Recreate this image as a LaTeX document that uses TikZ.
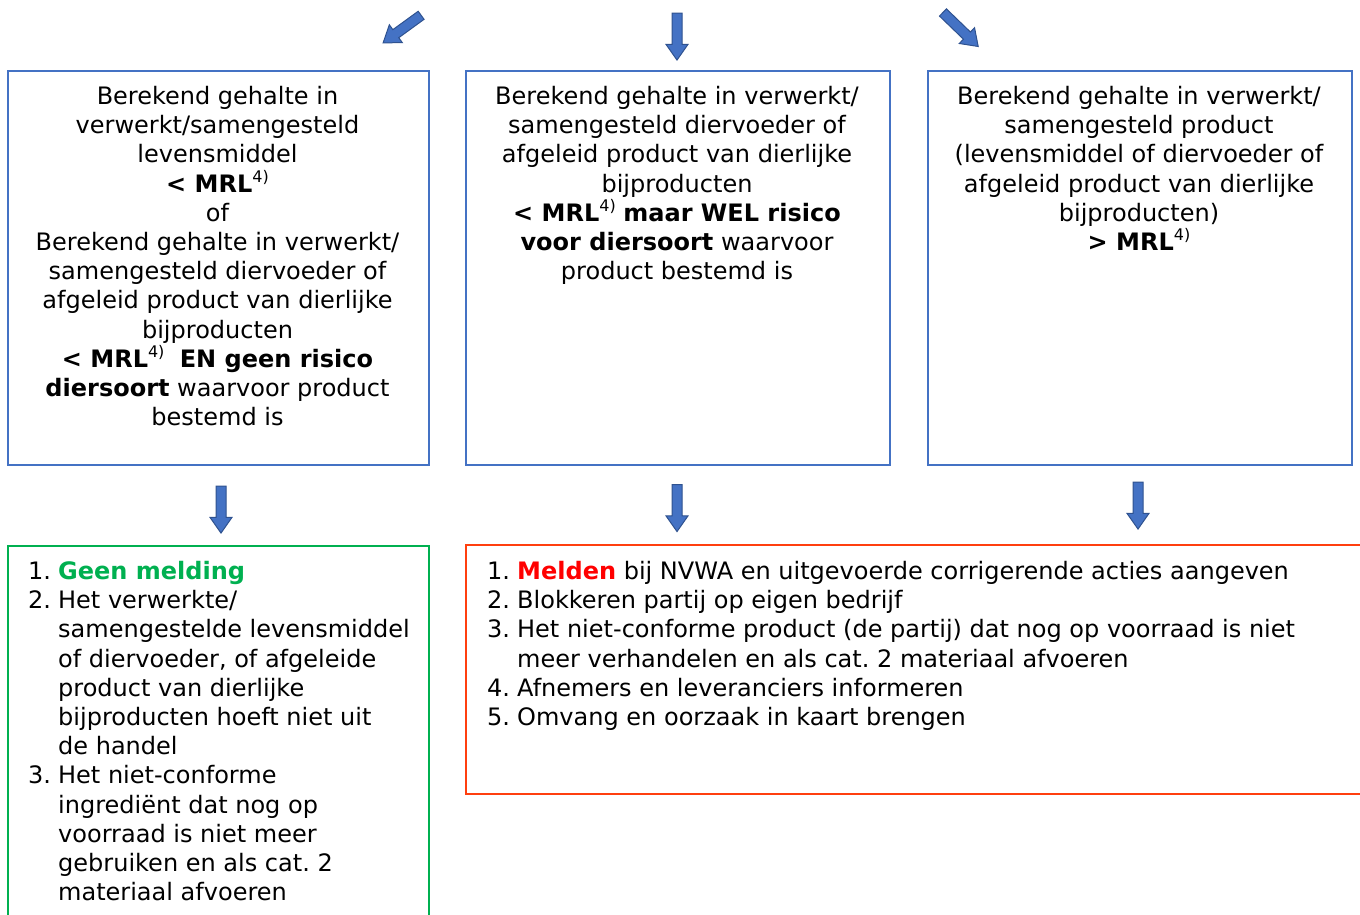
\documentclass[tikz,border=0pt]{standalone}
\usepackage{fontspec}
\setmainfont{DejaVu Sans}
\usetikzlibrary{shapes.arrows}
\definecolor{boxblue}{HTML}{4472C4}
\definecolor{arrfill}{HTML}{4472C4}
\definecolor{arrline}{HTML}{2F528F}
\definecolor{grn}{HTML}{00B050}
\definecolor{redline}{HTML}{FF3F0F}
\definecolor{melred}{HTML}{FF0000}
\newcommand{\supfour}{\raisebox{0.4em}{\fontsize{16bp}{16bp}\selectfont 4)}}
\newcommand{\ind}{\hspace*{30bp}}
\newcommand{\num}[1]{\makebox[30bp][l]{#1}}
\begin{document}
\begin{tikzpicture}[x=1bp,y=-1bp,
  box/.style={draw=boxblue,line width=1.5bp,inner sep=0,anchor=north west},
  txt/.style={inner sep=0,font=\fontsize{24bp}{29.2bp}\selectfont},
  barrow/.style={single arrow,fill=arrfill,draw=arrline,line width=1bp,
    inner xsep=0,inner ysep=4.5bp,minimum width=21bp,
    single arrow head extend=6bp,single arrow tip angle=70}]
\useasboundingbox (0,0) rectangle (1360,914);

% top arrows
\node[barrow,rotate=216,minimum height=47bp] (a1) at (405,27) {};
\node[barrow,rotate=-90,minimum height=47bp] (a2) at (677,33) {};
\node[barrow,rotate=-44,minimum height=49bp] (a3) at (958,27) {};

% boxes
\node[box,minimum width=421bp,minimum height=394bp] (b1) at (7,70) {};
\node[box,minimum width=424bp,minimum height=394bp] (b2) at (465,70) {};
\node[box,minimum width=424bp,minimum height=394bp] (b3) at (927,70) {};

\node[txt,anchor=north,align=center] (t1) at (217.5,86) {Berekend gehalte in\\verwerkt/samengesteld\\levensmiddel\\\textbf{< MRL}\supfour\\of\\Berekend gehalte in verwerkt/\\samengesteld diervoeder of\\afgeleid product van dierlijke\\bijproducten\\\textbf{< MRL}\supfour\ \ \textbf{EN geen risico}\\\textbf{diersoort} waarvoor product\\bestemd is};
\node[txt,anchor=north,align=center] (t2) at (677,86) {Berekend gehalte in verwerkt/\\samengesteld diervoeder of\\afgeleid product van dierlijke\\bijproducten\\\textbf{< MRL}\supfour{} \textbf{maar WEL risico}\\\textbf{voor diersoort} waarvoor\\product bestemd is};
\node[txt,anchor=north,align=center] (t3) at (1139,86) {Berekend gehalte in verwerkt/\\samengesteld product\\(levensmiddel of diervoeder of\\afgeleid product van dierlijke\\bijproducten)\\\textbf{> MRL}\supfour};

% bottom arrows
\node[barrow,rotate=-90,minimum height=47bp] (d1) at (221,506) {};
\node[barrow,rotate=-90,minimum height=47bp] (d2) at (677,504.5) {};
\node[barrow,rotate=-90,minimum height=47bp] (d3) at (1138,502) {};

% result boxes
\node[box,draw=grn,minimum width=421bp,minimum height=400bp] (g) at (7,545) {};
\node[box,draw=redline,minimum width=920bp,minimum height=249bp] (r) at (465,544) {};

\node[txt,anchor=north west,align=left] (gt) at (28,561) {\num{1.}\textcolor{grn}{\textbf{Geen melding}}\\
\num{2.}Het verwerkte/\\
\ind samengestelde levensmiddel\\
\ind of diervoeder, of afgeleide\\
\ind product van dierlijke\\
\ind bijproducten hoeft niet uit\\
\ind de handel\\
\num{3.}Het niet-conforme\\
\ind ingrediënt dat nog op\\
\ind voorraad is niet meer\\
\ind gebruiken en als cat.\ 2\\
\ind materiaal afvoeren};

\node[txt,anchor=north west,align=left] (rt) at (487,561) {\num{1.}\textcolor{melred}{\textbf{Melden}} bij NVWA en uitgevoerde corrigerende acties aangeven\\
\num{2.}Blokkeren partij op eigen bedrijf\\
\num{3.}Het niet-conforme product (de partij) dat nog op voorraad is niet\\
\ind meer verhandelen en als cat.\ 2 materiaal afvoeren\\
\num{4.}Afnemers en leveranciers informeren\\
\num{5.}Omvang en oorzaak in kaart brengen};
\end{tikzpicture}
\end{document}
